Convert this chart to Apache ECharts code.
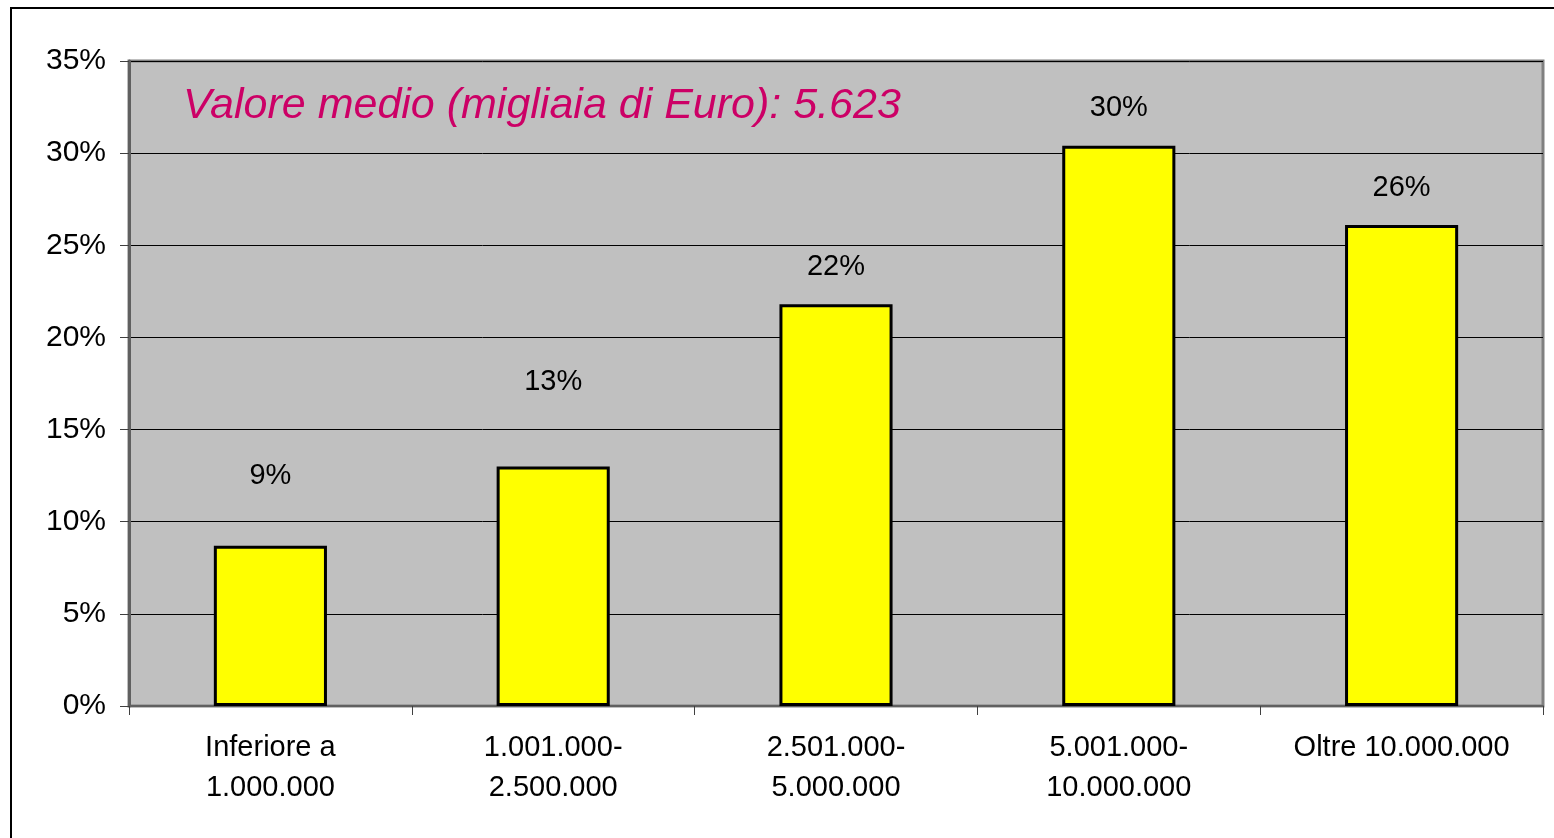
<!DOCTYPE html>
<html>
<head>
<meta charset="utf-8">
<script src="https://cdn.jsdelivr.net/npm/echarts@6/dist/echarts.min.js"></script>
<style>
html,body{margin:0;padding:0;background:#fff;}
#chart{width:1554px;height:838px;}
</style>
</head>
<body>
<div id="chart"></div>
<script>
const categories = ['Inferiore a\n1.000.000', '1.001.000-\n2.500.000', '2.501.000-\n5.000.000', '5.001.000-\n10.000.000', 'Oltre 10.000.000'];
const values = [8.7, 13.0, 21.8, 30.4, 26.1];
const valueLabels = ['9%', '13%', '22%', '30%', '26%'];
const subtitle = 'Valore medio (migliaia di Euro): 5.623';

const labelDist = [55, 70, 23, 23, 23];
const chart = echarts.init(document.getElementById('chart'));
chart.setOption({
  animation: false,
  backgroundColor: '#ffffff',
  textStyle: { fontFamily: 'Liberation Sans, Arial, sans-serif' },
  graphic: [
    { type: 'rect', z: 0, shape: { x: 11, y: 8, width: 1700, height: 1000 }, style: { fill: 'none', stroke: '#000', lineWidth: 2 } },
    { type: 'text', z: 50, left: 183, top: 85, style: { text: subtitle, fill: '#CC0066', font: 'italic 43px "Liberation Sans", Arial, sans-serif' } }
  ],
  grid: {
    left: 129, right: 11, top: 61, bottom: 132,
    show: true, backgroundColor: '#C0C0C0', borderColor: '#808080', borderWidth: 3
  },
  xAxis: {
    type: 'category',
    data: categories,
    axisLine: { lineStyle: { color: '#606060', width: 2 } },
    axisTick: { show: true, length: 9, lineStyle: { color: '#404040', width: 1 } },
    axisLabel: { color: '#000', fontSize: 29, lineHeight: 40, margin: 22, interval: 0 },
    splitLine: { show: false }
  },
  yAxis: {
    type: 'value',
    min: 0, max: 35, interval: 5,
    axisLine: { show: true, lineStyle: { color: '#606060', width: 3 } },
    axisTick: { show: true, length: 9, lineStyle: { color: '#404040', width: 1 } },
    axisLabel: { color: '#000', fontSize: 30, margin: 23, formatter: v => v + '%' },
    splitLine: { show: true, lineStyle: { color: '#000', width: 1 } }
  },
  series: [{
    type: 'bar',
    barWidth: '40%',
    data: values.map((v, i) => ({
      value: v,
      label: { distance: labelDist[i], formatter: valueLabels[i] }
    })),
    itemStyle: { color: '#FFFF00', borderColor: '#000', borderWidth: 3 },
    label: { show: true, position: 'top', color: '#000', fontSize: 29 }
  }]
});
</script>
</body>
</html>
